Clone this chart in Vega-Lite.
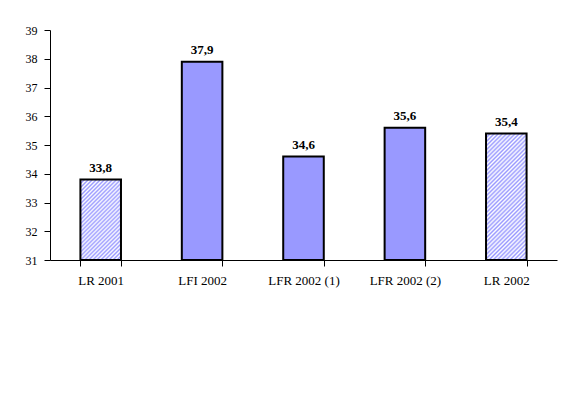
{
  "$schema": "https://vega.github.io/schema/vega-lite/v6.json",
  "width": 507,
  "height": 230,
  "autosize": "none",
  "padding": {"left": 50, "top": 30, "right": 27, "bottom": 133},
  "background": "#ffffff",
  "config": {
    "font": "Liberation Serif",
    "view": {"stroke": null},
    "locale": {"number": {"decimal": ",", "thousands": ".", "grouping": [3], "currency": ["", ""]}},
    "axis": {"labelFont": "Liberation Serif", "labelColor": "#000000", "domainColor": "#000000", "tickColor": "#000000", "grid": false, "title": null}
  },
  "data": {"values": [
    {"cat": "LR 2001", "value": 33.8, "style": "hatch"},
    {"cat": "LFI 2002", "value": 37.9, "style": "solid"},
    {"cat": "LFR 2002 (1)", "value": 34.6, "style": "solid"},
    {"cat": "LFR 2002 (2)", "value": 35.6, "style": "solid"},
    {"cat": "LR 2002", "value": 35.4, "style": "hatch"}
  ]},
  "encoding": {
    "x": {"field": "cat", "type": "nominal", "sort": null,
      "scale": {"domain": ["LR 2001", "LFI 2002", "LFR 2002 (1)", "LFR 2002 (2)", "LR 2002"], "paddingInner": 0.6, "paddingOuter": 0.3},
      "axis": {"labelAngle": 0, "labelFontSize": 13, "tickBand": "extent", "tickSize": 6, "labelPadding": 8, "domainWidth": 1, "tickWidth": 1}},
    "y": {"field": "value", "type": "quantitative",
      "scale": {"domain": [31, 39], "nice": false, "zero": false},
      "axis": {"values": [31, 32, 33, 34, 35, 36, 37, 38, 39], "labelFontSize": 12, "tickSize": 6, "labelPadding": 7, "domainWidth": 1, "tickWidth": 1}}
  },
  "layer": [
    {
      "transform": [{"filter": "datum.style == 'solid'"}],
      "mark": {"type": "bar", "fill": "#9999ff", "stroke": "#000000", "strokeWidth": 2},
      "encoding": {"y2": {"datum": 31}}
    },
    {
      "transform": [{"filter": "datum.cat == 'LR 2001'"}],
      "mark": {"type": "bar", "stroke": "#000000", "strokeWidth": 2,
        "fill": {"gradient": "linear", "x1": 0, "y1": 0, "x2": 0.6043, "y2": 1.1994, "stops": [
          {"offset": 0, "color": "#9999ff"}, {"offset": 0.0167, "color": "#ffffff"}, {"offset": 0.0333, "color": "#9999ff"}, {"offset": 0.05, "color": "#ffffff"},
          {"offset": 0.0667, "color": "#9999ff"}, {"offset": 0.0833, "color": "#ffffff"}, {"offset": 0.1, "color": "#9999ff"}, {"offset": 0.1167, "color": "#ffffff"},
          {"offset": 0.1333, "color": "#9999ff"}, {"offset": 0.15, "color": "#ffffff"}, {"offset": 0.1667, "color": "#9999ff"}, {"offset": 0.1833, "color": "#ffffff"},
          {"offset": 0.2, "color": "#9999ff"}, {"offset": 0.2167, "color": "#ffffff"}, {"offset": 0.2333, "color": "#9999ff"}, {"offset": 0.25, "color": "#ffffff"},
          {"offset": 0.2667, "color": "#9999ff"}, {"offset": 0.2833, "color": "#ffffff"}, {"offset": 0.3, "color": "#9999ff"}, {"offset": 0.3167, "color": "#ffffff"},
          {"offset": 0.3333, "color": "#9999ff"}, {"offset": 0.35, "color": "#ffffff"}, {"offset": 0.3667, "color": "#9999ff"}, {"offset": 0.3833, "color": "#ffffff"},
          {"offset": 0.4, "color": "#9999ff"}, {"offset": 0.4167, "color": "#ffffff"}, {"offset": 0.4333, "color": "#9999ff"}, {"offset": 0.45, "color": "#ffffff"},
          {"offset": 0.4667, "color": "#9999ff"}, {"offset": 0.4833, "color": "#ffffff"}, {"offset": 0.5, "color": "#9999ff"}, {"offset": 0.5167, "color": "#ffffff"},
          {"offset": 0.5333, "color": "#9999ff"}, {"offset": 0.55, "color": "#ffffff"}, {"offset": 0.5667, "color": "#9999ff"}, {"offset": 0.5833, "color": "#ffffff"},
          {"offset": 0.6, "color": "#9999ff"}, {"offset": 0.6167, "color": "#ffffff"}, {"offset": 0.6333, "color": "#9999ff"}, {"offset": 0.65, "color": "#ffffff"},
          {"offset": 0.6667, "color": "#9999ff"}, {"offset": 0.6833, "color": "#ffffff"}, {"offset": 0.7, "color": "#9999ff"}, {"offset": 0.7167, "color": "#ffffff"},
          {"offset": 0.7333, "color": "#9999ff"}, {"offset": 0.75, "color": "#ffffff"}, {"offset": 0.7667, "color": "#9999ff"}, {"offset": 0.7833, "color": "#ffffff"},
          {"offset": 0.8, "color": "#9999ff"}, {"offset": 0.8167, "color": "#ffffff"}, {"offset": 0.8333, "color": "#9999ff"}, {"offset": 0.85, "color": "#ffffff"},
          {"offset": 0.8667, "color": "#9999ff"}, {"offset": 0.8833, "color": "#ffffff"}, {"offset": 0.9, "color": "#9999ff"}, {"offset": 0.9167, "color": "#ffffff"},
          {"offset": 0.9333, "color": "#9999ff"}, {"offset": 0.95, "color": "#ffffff"}, {"offset": 0.9667, "color": "#9999ff"}, {"offset": 0.9833, "color": "#ffffff"},
          {"offset": 1, "color": "#9999ff"}
        ]}},
      "encoding": {"y2": {"datum": 31}}
    },
    {
      "transform": [{"filter": "datum.cat == 'LR 2002'"}],
      "mark": {"type": "bar", "stroke": "#000000", "strokeWidth": 2,
        "fill": {"gradient": "linear", "x1": 0, "y1": 0, "x2": 0.384, "y2": 1.1975, "stops": [
          {"offset": 0, "color": "#9999ff"}, {"offset": 0.0125, "color": "#ffffff"}, {"offset": 0.025, "color": "#9999ff"}, {"offset": 0.0375, "color": "#ffffff"},
          {"offset": 0.05, "color": "#9999ff"}, {"offset": 0.0625, "color": "#ffffff"}, {"offset": 0.075, "color": "#9999ff"}, {"offset": 0.0875, "color": "#ffffff"},
          {"offset": 0.1, "color": "#9999ff"}, {"offset": 0.1125, "color": "#ffffff"}, {"offset": 0.125, "color": "#9999ff"}, {"offset": 0.1375, "color": "#ffffff"},
          {"offset": 0.15, "color": "#9999ff"}, {"offset": 0.1625, "color": "#ffffff"}, {"offset": 0.175, "color": "#9999ff"}, {"offset": 0.1875, "color": "#ffffff"},
          {"offset": 0.2, "color": "#9999ff"}, {"offset": 0.2125, "color": "#ffffff"}, {"offset": 0.225, "color": "#9999ff"}, {"offset": 0.2375, "color": "#ffffff"},
          {"offset": 0.25, "color": "#9999ff"}, {"offset": 0.2625, "color": "#ffffff"}, {"offset": 0.275, "color": "#9999ff"}, {"offset": 0.2875, "color": "#ffffff"},
          {"offset": 0.3, "color": "#9999ff"}, {"offset": 0.3125, "color": "#ffffff"}, {"offset": 0.325, "color": "#9999ff"}, {"offset": 0.3375, "color": "#ffffff"},
          {"offset": 0.35, "color": "#9999ff"}, {"offset": 0.3625, "color": "#ffffff"}, {"offset": 0.375, "color": "#9999ff"}, {"offset": 0.3875, "color": "#ffffff"},
          {"offset": 0.4, "color": "#9999ff"}, {"offset": 0.4125, "color": "#ffffff"}, {"offset": 0.425, "color": "#9999ff"}, {"offset": 0.4375, "color": "#ffffff"},
          {"offset": 0.45, "color": "#9999ff"}, {"offset": 0.4625, "color": "#ffffff"}, {"offset": 0.475, "color": "#9999ff"}, {"offset": 0.4875, "color": "#ffffff"},
          {"offset": 0.5, "color": "#9999ff"}, {"offset": 0.5125, "color": "#ffffff"}, {"offset": 0.525, "color": "#9999ff"}, {"offset": 0.5375, "color": "#ffffff"},
          {"offset": 0.55, "color": "#9999ff"}, {"offset": 0.5625, "color": "#ffffff"}, {"offset": 0.575, "color": "#9999ff"}, {"offset": 0.5875, "color": "#ffffff"},
          {"offset": 0.6, "color": "#9999ff"}, {"offset": 0.6125, "color": "#ffffff"}, {"offset": 0.625, "color": "#9999ff"}, {"offset": 0.6375, "color": "#ffffff"},
          {"offset": 0.65, "color": "#9999ff"}, {"offset": 0.6625, "color": "#ffffff"}, {"offset": 0.675, "color": "#9999ff"}, {"offset": 0.6875, "color": "#ffffff"},
          {"offset": 0.7, "color": "#9999ff"}, {"offset": 0.7125, "color": "#ffffff"}, {"offset": 0.725, "color": "#9999ff"}, {"offset": 0.7375, "color": "#ffffff"},
          {"offset": 0.75, "color": "#9999ff"}, {"offset": 0.7625, "color": "#ffffff"}, {"offset": 0.775, "color": "#9999ff"}, {"offset": 0.7875, "color": "#ffffff"},
          {"offset": 0.8, "color": "#9999ff"}, {"offset": 0.8125, "color": "#ffffff"}, {"offset": 0.825, "color": "#9999ff"}, {"offset": 0.8375, "color": "#ffffff"},
          {"offset": 0.85, "color": "#9999ff"}, {"offset": 0.8625, "color": "#ffffff"}, {"offset": 0.875, "color": "#9999ff"}, {"offset": 0.8875, "color": "#ffffff"},
          {"offset": 0.9, "color": "#9999ff"}, {"offset": 0.9125, "color": "#ffffff"}, {"offset": 0.925, "color": "#9999ff"}, {"offset": 0.9375, "color": "#ffffff"},
          {"offset": 0.95, "color": "#9999ff"}, {"offset": 0.9625, "color": "#ffffff"}, {"offset": 0.975, "color": "#9999ff"}, {"offset": 0.9875, "color": "#ffffff"},
          {"offset": 1, "color": "#9999ff"}
        ]}},
      "encoding": {"y2": {"datum": 31}}
    },
    {
      "mark": {"type": "text", "font": "Liberation Serif", "fontSize": 13, "fontWeight": "bold", "baseline": "bottom", "dy": -5, "color": "#000000"},
      "encoding": {"text": {"field": "value", "type": "quantitative", "format": ".1f"}}
    }
  ]
}
